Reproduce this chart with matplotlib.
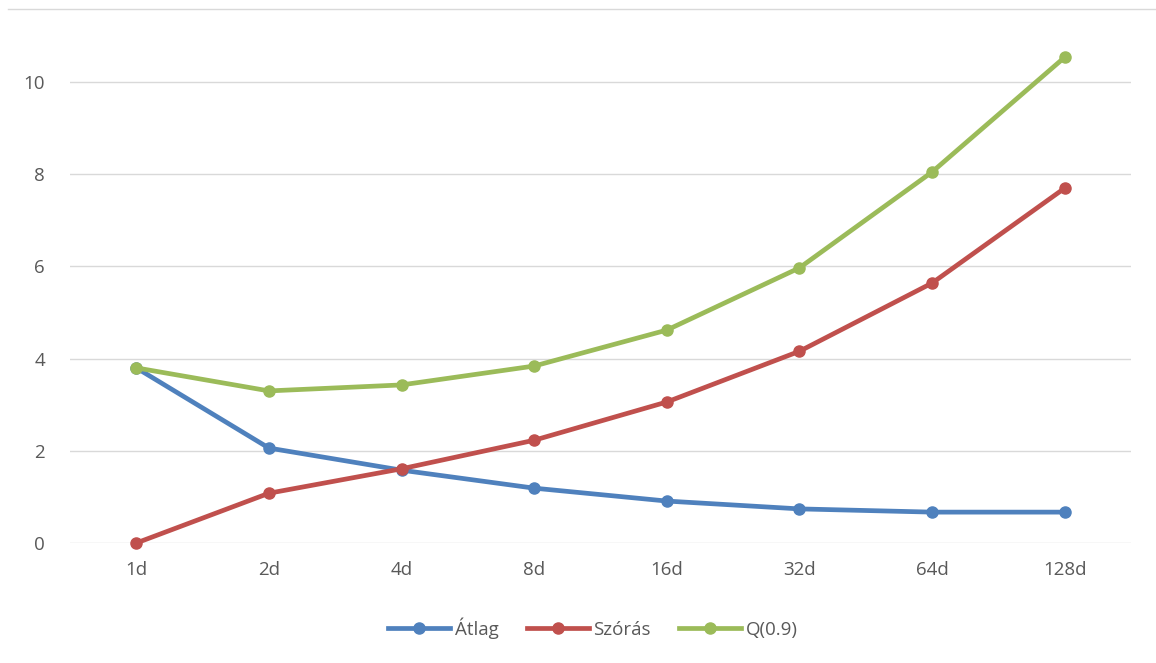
import matplotlib
matplotlib.use("Agg")
import matplotlib.pyplot as plt
from matplotlib.lines import Line2D

# idoablakok es a harom statisztika
labels = ["1d", "2d", "4d", "8d", "16d", "32d", "64d", "128d"]
atlag = [3.80, 2.06, 1.58, 1.19, 0.91, 0.74, 0.67, 0.67]
szoras = [0.0, 1.08, 1.61, 2.23, 3.06, 4.16, 5.64, 7.70]
q90 = [3.80, 3.30, 3.43, 3.84, 4.62, 5.97, 8.05, 10.54]

plt.rcParams['font.family'] = ['Open Sans', 'DejaVu Sans']

fig = plt.figure(figsize=(11.56, 6.63), dpi=100)
ax = fig.add_axes([70 / 1156, 120 / 663, 1061 / 1156, 530 / 663])

x = list(range(len(labels)))
ax.plot(x, atlag, color='#4F81BD', lw=3.4, marker='o', ms=8, label='Átlag', zorder=3, clip_on=False)
ax.plot(x, szoras, color='#C0504D', lw=3.4, marker='o', ms=8, label='Szórás', zorder=3, clip_on=False)
ax.plot(x, q90, color='#9BBB59', lw=3.4, marker='o', ms=8, label='Q(0.9)', zorder=3, clip_on=False)

ax.set_xlim(-0.5, 7.5)
ax.set_ylim(0, 11.5)
ax.set_yticks([0, 2, 4, 6, 8, 10])
ax.set_xticks(x)
ax.set_xticklabels(labels)
ax.grid(axis='y', color='#D9D9D9', lw=1)
ax.set_axisbelow(True)
for s in ax.spines.values():
    s.set_visible(False)
ax.tick_params(axis='both', length=0, labelsize=13.5, labelcolor='#595959')
ax.tick_params(axis='x', pad=13)
ax.tick_params(axis='y', pad=18)

# keret felso vonala
fig.add_artist(Line2D([8 / 1156, 1.0], [1 - 9 / 663, 1 - 9 / 663], color='#D9D9D9', lw=1))

fig.legend(loc='center', bbox_to_anchor=(0.513, 1 - 628 / 663), ncol=3, frameon=False,
           fontsize=13.5, labelcolor='#595959', handlelength=3.3, handletextpad=0.25,
           columnspacing=1.5)

fig.savefig('out.png', dpi=100)
